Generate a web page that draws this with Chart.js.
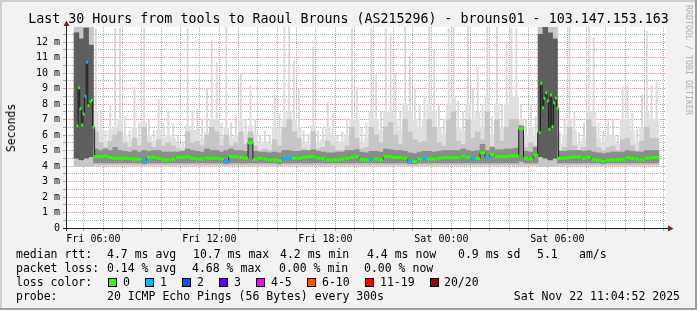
<!DOCTYPE html>
<html>
<head>
<meta charset="utf-8">
<script src="https://cdn.jsdelivr.net/npm/chart.js@4/dist/chart.umd.min.js"></script>
<style>
html,body{margin:0;padding:0;background:#f2f2f2;}
#wrap{position:relative;width:697px;height:310px;overflow:hidden;font-family:"DejaVu Sans Mono",monospace;color:#000;}
canvas{position:absolute;left:0;top:0;}
.t{position:absolute;white-space:pre;font-size:11.5px;line-height:14px;}
.sw{position:absolute;width:7px;height:7px;border:1px solid #000;}
</style>
</head>
<body>
<div id="wrap">
<canvas id="c" width="697" height="310"></canvas>
<div class="t" style="left:0;width:697px;text-align:center;top:11px;font-size:13.3px;line-height:16px;">Last 30 Hours from tools to Raoul Brouns (AS215296) - brouns01 - 103.147.153.163</div>
<div class="t" style="left:10.5px;top:127.5px;transform:translate(-50%,-50%) rotate(-90deg);">Seconds</div>
<div class="t" style="left:688.5px;top:60px;font-size:8.3px;line-height:10px;color:rgba(0,0,0,0.3);transform:translate(-50%,-50%) rotate(90deg);">RRDTOOL / TOBI OETIKER</div>

<div class="t" style="left:16px;top:247px;">median rtt:</div>
<div class="t" style="left:107px;top:247px;">4.7 ms avg</div>
<div class="t" style="left:193px;top:247px;">10.7 ms max</div>
<div class="t" style="left:280px;top:247px;">4.2 ms min</div>
<div class="t" style="left:367px;top:247px;">4.4 ms now</div>
<div class="t" style="left:458px;top:247px;">0.9 ms sd</div>
<div class="t" style="left:537px;top:247px;">5.1</div>
<div class="t" style="left:579px;top:247px;">am/s</div>

<div class="t" style="left:16px;top:261px;">packet loss:</div>
<div class="t" style="left:107px;top:261px;">0.14 % avg</div>
<div class="t" style="left:192px;top:261px;">4.68 % max</div>
<div class="t" style="left:279px;top:261px;">0.00 % min</div>
<div class="t" style="left:364px;top:261px;">0.00 % now</div>

<div class="t" style="left:16px;top:275px;">loss color:</div>
<div id="lossLegend"></div>

<div class="t" style="left:16px;top:289px;">probe:</div>
<div class="t" style="left:107px;top:289px;">20 ICMP Echo Pings (56 Bytes) every 300s</div>
<div class="t" style="right:17px;top:289px;">Sat Nov 22 11:04:52 2025</div>
</div>

<script>
// ---------- DATA (hours since Fri 00:00, values in ms) ----------
const slotStart = 5.0;   // first 15-minute slot starts Fri 05:00
const slotStep = 0.25;   // 15 minutes

// max ping (thin light spikes)
const maxRtt = [
 12.97,12.97,12.97,12.97,12.9,7.6,6.3,8.0,12.9,12.9,7.2,6.3,9.1,6.8,12.9,7.0,6.3,8.3,6.8,7.5,
 6.8,5.9,5.6,12.9,7.6,7.7,7.0,9.0,12.1,10.7,6.8,12.97,6.8,7.2,10.0,7.0,9.2,7.0,6.0,6.3,
 6.0,8.6,7.4,12.97,12.97,10.8,9.0,6.3,6.1,11.7,6.3,6.5,8.1,7.4,6.0,6.2,7.0,12.9,9.1,6.5,
 6.8,12.9,9.9,7.5,12.9,12.6,10.0,7.5,12.97,11.1,9.0,8.0,8.5,12.97,11.5,7.9,7.0,12.9,12.97,8.2,
 7.5,12.97,9.0,10.4,8.0,12.97,7.2,12.97,8.0,12.1,12.9,12.9,8.0,7.0,8.0,7.2,12.97,12.97,12.97,12.97,
 6.2,7.0,12.97,7.5,6.2,6.8,12.97,12.3,6.8,6.3,6.9,7.0,6.0,9.1,9.2,7.4,6.4,8.6,12.7,9.2,9.5
];
// 19th ping (wide light smoke)
const p95 = [
 12.97,12.97,12.97,12.97,7.5,6.3,5.6,6.3,6.5,7.0,6.0,5.6,6.5,5.8,6.8,6.0,5.6,6.3,5.8,6.0,
 5.8,5.4,5.2,6.6,6.3,6.3,5.8,6.2,7.0,7.0,5.8,6.5,5.8,6.0,7.0,6.0,6.6,6.0,5.4,5.5,
 5.4,6.5,6.0,7.0,7.5,7.0,6.5,5.5,5.4,6.6,5.5,5.7,6.5,6.0,5.4,5.5,6.0,7.0,7.0,5.5,
 5.8,7.5,7.0,6.3,7.5,7.5,7.0,6.3,8.0,7.5,7.0,6.5,7.0,8.0,7.5,6.5,6.0,8.0,8.5,6.5,
 6.3,8.0,7.0,7.5,6.5,8.5,6.0,8.0,6.5,8.0,8.5,8.5,7.0,6.0,6.5,6.0,12.97,12.97,12.97,12.97,
 5.4,6.0,7.0,6.3,5.4,5.8,7.5,7.5,5.8,5.5,6.0,6.0,5.4,7.0,7.0,6.3,5.5,6.5,7.5,7.0,7.0
];
// upper smoke (mid grey)
const p90 = [
 12.97,12.97,12.97,12.97,6.2,5.5,5.2,5.6,6.0,6.2,5.5,5.2,5.8,5.3,6.5,5.5,5.2,5.7,5.3,5.5,
 5.3,5.1,5.0,6.2,5.5,5.6,5.3,6.0,6.5,6.2,5.3,6.0,5.3,5.5,6.2,5.4,6.2,5.3,5.0,5.1,
 5.0,5.7,5.3,6.5,7.0,6.2,5.8,5.1,5.0,6.2,5.1,5.2,5.6,5.3,5.0,5.0,5.3,6.5,5.8,5.1,
 5.2,6.5,6.0,5.5,6.5,6.8,6.0,5.4,7.0,6.2,5.7,5.5,5.6,7.0,6.5,5.5,5.3,7.0,7.5,5.6,
 5.4,7.0,5.8,6.2,5.7,7.5,5.3,7.0,5.6,6.5,7.0,7.0,6.5,5.2,5.5,5.3,12.97,12.97,12.97,12.97,
 5.0,5.2,6.5,5.3,5.0,5.2,7.0,6.5,5.2,5.0,5.2,5.3,5.0,5.7,5.8,5.3,5.0,5.6,6.5,5.8,5.8
];
// dark smoke band top
const p75 = [
 12.6,12.2,12.9,11.8,5.1,5.0,5.1,5.0,5.2,5.0,4.95,4.9,5.0,4.9,5.0,4.95,5.0,5.0,4.9,4.9,
 4.9,4.9,4.95,5.1,5.0,4.95,4.9,5.1,5.0,5.0,4.9,5.0,5.1,5.0,5.0,4.95,5.8,4.95,4.9,4.9,
 4.85,4.9,4.85,5.0,5.0,4.95,4.95,5.0,5.0,5.05,4.95,4.9,4.85,4.85,4.9,4.9,5.0,5.0,5.05,4.9,
 4.85,4.95,4.95,4.9,5.1,5.05,5.0,5.0,4.95,4.85,4.8,4.9,4.95,4.95,4.9,4.95,5.0,5.0,5.0,5.0,
 5.1,5.0,4.95,5.0,5.4,5.0,5.2,5.05,5.05,5.1,5.1,5.15,6.6,4.95,4.9,5.2,12.5,12.97,12.6,12.2,
 4.95,4.95,5.0,5.0,5.0,4.95,5.0,4.9,4.85,4.8,4.85,4.9,4.9,4.9,5.0,4.95,4.9,4.9,5.0,5.0,5.0
];
// dark smoke band bottom
const p25 = [
 4.5,4.4,4.5,4.6,4.2,4.2,4.2,4.2,4.2,4.2,4.2,4.2,4.2,4.2,4.15,4.2,4.2,4.2,4.2,4.2,
 4.2,4.2,4.2,4.2,4.2,4.2,4.2,4.2,4.2,4.2,4.2,4.15,4.2,4.2,4.2,4.2,4.2,4.2,4.2,4.2,
 4.2,4.2,4.15,4.2,4.2,4.2,4.2,4.2,4.2,4.2,4.2,4.2,4.2,4.2,4.2,4.2,4.2,4.2,4.2,4.2,
 4.2,4.2,4.2,4.2,4.2,4.2,4.2,4.2,4.2,4.15,4.15,4.2,4.2,4.2,4.2,4.2,4.2,4.2,4.2,4.2,
 4.2,4.2,4.2,4.2,4.2,4.2,4.2,4.2,4.2,4.2,4.2,4.2,4.3,4.2,4.2,4.2,4.6,4.5,4.4,4.5,
 4.2,4.2,4.2,4.2,4.2,4.2,4.2,4.2,4.2,4.15,4.2,4.2,4.2,4.2,4.2,4.2,4.2,4.2,4.2,4.2,4.2
];
// min ping (bottom of smoke)
const minRtt = [
 3.95,3.95,3.95,3.95,4.05,4.05,4.05,4.05,4.05,4.05,4.05,4.05,4.05,4.05,4.0,4.05,4.05,4.05,4.05,4.05,
 4.05,4.05,4.05,4.05,4.05,4.05,4.05,4.05,4.05,4.05,4.05,4.0,4.05,4.05,4.05,4.05,4.05,4.05,4.05,4.05,
 4.05,4.05,4.0,4.05,4.05,4.05,4.05,4.05,4.05,4.05,4.05,4.05,4.05,4.05,4.05,4.05,4.05,4.05,4.05,4.05,
 4.05,4.05,4.05,4.05,4.05,4.05,4.05,4.05,4.05,4.0,4.0,4.05,4.05,4.05,4.05,4.05,4.05,4.05,4.05,4.05,
 4.05,4.05,4.05,4.05,4.05,4.05,4.05,4.05,4.05,4.05,4.05,4.05,4.05,4.05,4.05,4.05,3.95,3.95,3.95,3.95,
 4.05,4.05,4.05,4.05,4.05,4.05,4.05,4.05,4.05,4.0,4.05,4.05,4.05,4.05,4.05,4.05,4.05,4.05,4.05,4.05,4.05
];
// median rtt per 15-minute slot (null where 5-minute values are given below)
const median = [
 null,null,null,null,4.6,4.6,4.65,4.55,4.5,4.5,4.5,4.48,4.45,4.42,4.35,4.55,4.56,4.5,4.4,4.38,
 4.45,4.54,4.56,4.6,4.5,4.45,4.45,4.52,4.5,4.5,4.45,4.3,4.6,4.6,4.55,4.5,5.5,4.42,4.5,4.45,
 4.4,4.38,4.35,4.5,4.5,4.5,4.5,4.55,4.6,4.6,4.5,4.48,4.4,4.4,4.4,4.45,4.5,4.56,4.6,4.42,
 4.4,4.42,4.45,4.4,4.6,4.6,4.55,4.55,4.5,4.3,4.3,4.45,4.48,4.45,4.45,4.5,4.54,4.54,4.54,4.54,
 4.65,4.55,4.45,4.48,4.85,4.54,4.75,4.6,4.6,4.6,4.65,4.65,6.4,4.5,4.45,4.7,null,null,null,null,
 4.5,4.5,4.55,4.58,4.58,4.5,4.56,4.4,4.38,4.3,4.38,4.4,4.4,4.42,4.54,4.5,4.45,4.4,4.5,4.55,4.55
];
// lost pings per slot
const loss = [
 0,0,0,0,0,0,0,0,0,0,0,0,0,0,1,0,0,0,0,0,
 0,0,0,0,0,0,0,0,0,0,0,1,0,0,0,0,0,0,0,0,
 0,0,0,1,1,0,0,0,0,0,0,0,0,0,0,0,0,0,0,0,
 0,1,0,0,0,0,0,0,0,1,0,0,1,0,0,0,0,0,0,0,
 0,0,1,0,0,1,0,0,0,0,0,0,0,0,0,0,0,0,0,0,
 0,0,0,0,0,0,0,0,0,0,0,0,0,0,0,0,0,0,0,0,0
];
// 5-minute medians during the two high-latency periods
const burstTimes = [5.167,5.25,5.333,5.417,5.5,5.583,5.667,5.75,5.833,5.917,6.0,
                    29.083,29.167,29.25,29.333,29.417,29.5,29.583,29.667,29.75,29.833,29.917,30.0];
const burstMedian = [6.6,9.05,7.7,6.65,7.35,8.5,10.7,7.9,8.15,8.25,6.5,
                     6.15,9.33,7.76,8.37,8.73,8.2,6.37,8.58,6.54,8.09,8.37,7.73];
const burstLoss = [0,0,0,0,0,1,1,0,0,0,0, 0,0,0,0,0,0,0,0,0,0,0,0];

const xTickHours = [6, 12, 18, 24, 30];
const xTickLabels = ['Fri 06:00', 'Fri 12:00', 'Fri 18:00', 'Sat 00:00', 'Sat 06:00'];
const yTickLabels = ['0','1 m','2 m','3 m','4 m','5 m','6 m','7 m','8 m','9 m','10 m','11 m','12 m'];
const lossLabels = ['0','1','2','3','4-5','6-10','11-19','20/20'];
const lossColors = ['#26ff00','#00b8ff','#0059ff','#5e00ff','#ff00ff','#ff5500','#ff0000','#a00000'];

// ---------- legend swatches ----------
const swX = [108,145,182,219,256,307,365,430];
const lblX = [123,160,197,234,271,322,380,444];
const lg = document.getElementById('lossLegend');
lossLabels.forEach((l, i) => {
  const s = document.createElement('div');
  s.className = 'sw'; s.style.left = swX[i] + 'px'; s.style.top = '278px'; s.style.background = lossColors[i];
  lg.appendChild(s);
  const t = document.createElement('div');
  t.className = 't'; t.style.left = lblX[i] + 'px'; t.style.top = '275px'; t.textContent = l;
  lg.appendChild(t);
});

// ---------- build chart ----------
const slotTimes = maxRtt.map((_, k) => slotStart + slotStep * (k + 0.5));
const GRID = 'rgba(143,143,143,0.75)';
const MGRID = 'rgba(222,79,79,0.6)';
const AXIS = '#1f1f1f';
const ARROW = '#801f1f';

const band = (a, b) => slotTimes.map((x, k) => ({x, y: [a[k], b[k]]}));

const medPts = [];
slotTimes.forEach((x, k) => { if (median[k] !== null) medPts.push({x, y: median[k], loss: loss[k], fine: false}); });
burstTimes.forEach((x, i) => medPts.push({x, y: burstMedian[i], loss: burstLoss[i], fine: true}));
medPts.sort((a, b) => a.x - b.x);

const bgPlugin = {
  id: 'bg',
  beforeDraw(chart) {
    const {ctx, chartArea: a, width: W, height: H} = chart;
    ctx.save();
    ctx.fillStyle = '#f2f2f2'; ctx.fillRect(0, 0, W, H);
    ctx.fillStyle = '#cfcfcf'; ctx.fillRect(0, 0, W, 2); ctx.fillRect(0, 0, 2, H);
    ctx.fillStyle = '#9e9e9e'; ctx.fillRect(0, H - 2, W, 2); ctx.fillRect(W - 2, 0, 2, H);
    ctx.fillStyle = '#ffffff'; ctx.fillRect(a.left, a.top, a.right - a.left, a.bottom - a.top);
    ctx.restore();
  },
  afterDraw(chart) {
    const {ctx, chartArea: a} = chart;
    ctx.save();
    ctx.fillStyle = AXIS;
    ctx.fillRect(a.left - 3, a.bottom, a.right - a.left + 6, 1);
    ctx.fillRect(a.left, a.top - 3, 1, a.bottom - a.top + 6);
    ctx.fillStyle = ARROW;
    ctx.beginPath();
    ctx.moveTo(a.right + 2, a.bottom - 2.5); ctx.lineTo(a.right + 7.5, a.bottom + 0.5); ctx.lineTo(a.right + 2, a.bottom + 3.5);
    ctx.closePath(); ctx.fill();
    ctx.beginPath();
    ctx.moveTo(a.left - 2.5, a.top - 1); ctx.lineTo(a.left + 0.5, a.top - 6.5); ctx.lineTo(a.left + 3.5, a.top - 1);
    ctx.closePath(); ctx.fill();
    ctx.restore();
  }
};

const barCommon = {type: 'bar', grouped: false, barPercentage: 1, categoryPercentage: 1, borderWidth: 0, clip: 0};

new Chart(document.getElementById('c'), {
  type: 'bar',
  data: {
    datasets: [
      {
        type: 'line', label: 'median', data: medPts, order: 0, clip: 0,
        stepped: 'middle', borderColor: 'rgba(20,20,20,0.9)', borderWidth: 1, spanGaps: false,
        pointStyle: 'line',
        pointRadius: c => (c.raw && c.raw.fine) ? 1 : 2.5,
        pointBorderWidth: 3,
        pointBorderColor: c => lossColors[c.raw ? c.raw.loss : 0],
        pointBackgroundColor: c => lossColors[c.raw ? c.raw.loss : 0],
        pointHoverRadius: 0
      },
      Object.assign({label: 'dark', data: band(p25, p75), order: 1,
        backgroundColor: c => (p75[c.dataIndex] - p25[c.dataIndex] > 3) ? '#5e5e5e' : '#8c8c8c'}, barCommon),
      Object.assign({label: 'mid', data: band(minRtt, p90), order: 2, backgroundColor: '#c6c6c6'}, barCommon),
      Object.assign({label: 'light', data: band(minRtt, p95), order: 3, backgroundColor: '#e0e0e0'}, barCommon),
      Object.assign({}, barCommon, {label: 'max', data: band(minRtt, maxRtt), order: 4, backgroundColor: '#d9d9d9', barPercentage: 0.4})
    ]
  },
  options: {
    responsive: false, animation: false, devicePixelRatio: 1,
    events: [],
    layout: {padding: {top: 27, right: 31, bottom: 0, left: 0}},
    plugins: {legend: {display: false}, tooltip: {enabled: false}},
    scales: {
      x: {
        type: 'linear', min: 5.1, max: 35.1, z: 1,
        afterBuildTicks: s => { const t = []; for (let h = 6; h <= 35; h++) t.push({value: h}); s.ticks = t; },
        afterFit: s => { s.height = 82; },
        ticks: {
          autoSkip: false, maxRotation: 0, minRotation: 0, padding: 2, color: '#000',
          font: {family: 'DejaVu Sans Mono', size: 10},
          callback: v => { const i = xTickHours.indexOf(v); return i >= 0 ? xTickLabels[i] : ''; }
        },
        grid: {
          color: c => (c.tick && c.tick.value % 3 === 0) ? MGRID : GRID,
          tickColor: c => (c.tick && c.tick.value % 3 === 0) ? MGRID : GRID,
          lineWidth: 1, tickLength: 3, drawTicks: true
        },
        border: {display: false, dash: [1, 1]}
      },
      y: {
        type: 'linear', min: 0, max: 12.97, z: 1,
        afterBuildTicks: s => { const t = []; for (let v = 0; v <= 12.5; v += 0.5) t.push({value: v}); s.ticks = t; },
        afterFit: s => { s.width = 66; },
        ticks: {
          autoSkip: false, padding: 3, color: '#000',
          font: {family: 'DejaVu Sans Mono', size: 10},
          callback: v => Number.isInteger(v) ? yTickLabels[v] : ''
        },
        grid: {
          color: c => !c.tick || c.tick.value === 0 ? 'rgba(0,0,0,0)' : (Number.isInteger(c.tick.value) ? MGRID : GRID),
          tickColor: c => !c.tick ? 'rgba(0,0,0,0)' : (Number.isInteger(c.tick.value) ? MGRID : GRID),
          lineWidth: 1, tickLength: 3, drawTicks: true
        },
        border: {display: false, dash: [1, 1]}
      }
    }
  },
  plugins: [bgPlugin]
});
</script>
</body>
</html>
